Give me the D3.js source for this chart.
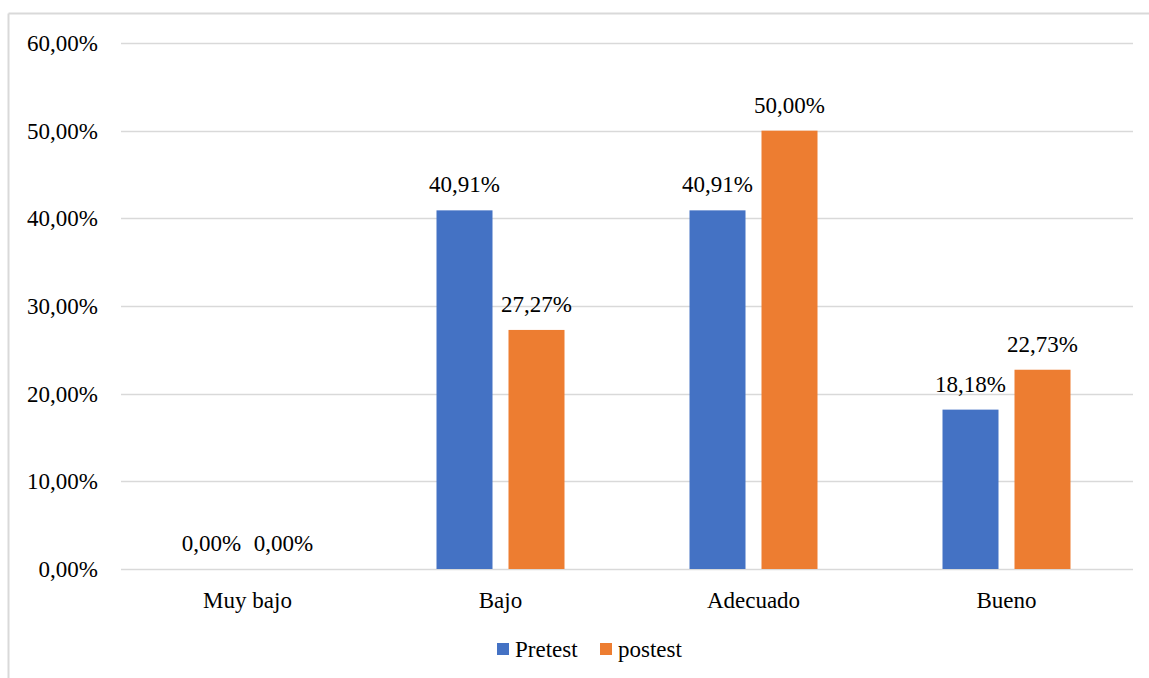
<!DOCTYPE html>
<html><head><meta charset="utf-8">
<script src="https://cdn.jsdelivr.net/npm/d3@7"></script>
<style>body{margin:0;background:#fff}svg{display:block}
text{font-family:"Liberation Serif","Times New Roman",Tinos,"DejaVu Serif",serif;}</style>
</head><body>
<svg id="chart" width="1149" height="678"></svg>
<script>
const categories = ["Muy bajo", "Bajo", "Adecuado", "Bueno"];
const seriesNames = ["Pretest", "postest"];
const pretest = [0.00, 40.91, 40.91, 18.18];
const postest = [0.00, 27.27, 50.00, 22.73];
const yTicks = [0, 10, 20, 30, 40, 50, 60];
const colors = ["#4472c4", "#ed7d31"];

const svg = d3.select("#chart");
const fmt = v => v.toFixed(2).replace(".", ",") + "%";

// outer border (top & left visible)
svg.append("line").attr("x1", 8.5).attr("x2", 1149).attr("y1", 13.5).attr("y2", 13.5).attr("stroke", "#d9d9d9").attr("stroke-width", 2);
svg.append("line").attr("x1", 8.5).attr("x2", 8.5).attr("y1", 13.5).attr("y2", 678).attr("stroke", "#d9d9d9").attr("stroke-width", 2);

const x0 = d3.scaleBand().domain(categories).range([121, 1133]).padding(0);
const groupW = x0.bandwidth() * 128 / 253;
const x1 = d3.scaleBand().domain(seriesNames).range([0, groupW]).paddingInner(0.2222).paddingOuter(0);
const y = d3.scaleLinear().domain([0, 60]).range([569, 43]);

// grid
svg.append("g").selectAll("line").data(yTicks).join("line")
  .attr("x1", 121).attr("x2", 1133)
  .attr("y1", d => Math.round(y(d)) + 0.5).attr("y2", d => Math.round(y(d)) + 0.5)
  .attr("stroke", "#d9d9d9").attr("stroke-width", 1.5);

// y labels
svg.append("g").selectAll("text").data(yTicks).join("text")
  .attr("x", 98).attr("y", d => y(d)).attr("dy", "0.35em")
  .attr("text-anchor", "end").attr("font-size", 23).attr("fill", "#000")
  .text(d => fmt(d));

// x labels
svg.append("g").selectAll("text").data(categories).join("text")
  .attr("x", d => x0(d) + x0.bandwidth() / 2).attr("y", 600).attr("dy", "0.35em")
  .attr("text-anchor", "middle").attr("font-size", 23).attr("fill", "#000")
  .text(d => d);

const data = categories.map((c, i) => ({ c, vals: [pretest[i], postest[i]] }));
const groups = svg.append("g").selectAll("g").data(data).join("g")
  .attr("transform", d => `translate(${x0(d.c) + (x0.bandwidth() - groupW) / 2},0)`);

groups.selectAll("rect").data(d => d.vals.map((v, j) => ({ v, s: seriesNames[j], j }))).join("rect")
  .attr("x", d => x1(d.s)).attr("width", x1.bandwidth())
  .attr("y", d => y(d.v)).attr("height", d => y(0) - y(d.v))
  .attr("fill", d => colors[d.j]);

groups.selectAll("text").data(d => d.vals.map((v, j) => ({ v, s: seriesNames[j], j }))).join("text")
  .attr("x", d => x1(d.s) + x1.bandwidth() / 2).attr("y", d => y(d.v) - 18)
  .attr("text-anchor", "middle").attr("font-size", 23).attr("fill", "#000")
  .text(d => fmt(d.v));

// legend
const legend = svg.append("g");
const legX = [497, 600];
seriesNames.forEach((s, i) => {
  legend.append("rect").attr("x", legX[i]).attr("y", 643).attr("width", 12).attr("height", 12).attr("fill", colors[i]);
  legend.append("text").attr("x", legX[i] + 18).attr("y", 657).attr("font-size", 23).attr("fill", "#000").text(s);
});
</script>
</body></html>
